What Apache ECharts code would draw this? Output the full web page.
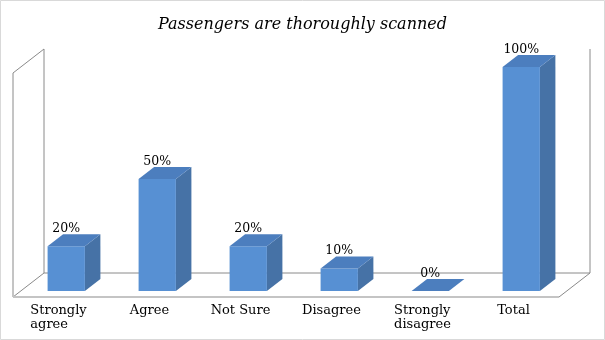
<!DOCTYPE html>
<html>
<head>
<meta charset="utf-8">
<script src="https://cdn.jsdelivr.net/npm/echarts@6/dist/echarts.min.js"></script>
<style>
html,body{margin:0;padding:0;background:#fff;}
#chart{width:605px;height:340px;}
</style>
</head>
<body>
<div id="chart"></div>
<script>
const titleText = 'Passengers are thoroughly scanned';
const categories = ['Strongly\nagree', 'Agree', 'Not Sure', 'Disagree', 'Strongly\ndisagree', 'Total'];
const values = [20, 50, 20, 10, 0, 100];
const valueLabels = ['20%', '50%', '20%', '10%', '0%', '100%'];

// style constants (3D projection)
const DX = 31, DY = -24;       // floor depth vector
const FRONT_C = '#5790D3', TOP_C = '#4C7EBE', SIDE_C = '#4672A6';
const WALL_C = '#8a8a8a';
const FONT = 'DejaVu Serif';

const chart = echarts.init(document.getElementById('chart'));

function wallsRender(params, api) {
  const cs = params.coordSys;
  const x0 = cs.x, x1 = cs.x + cs.width;
  const yb = api.coord([0, 0])[1];
  const yt = api.coord([0, 100])[1];
  const line = (a, b, c, d, stroke, w) => ({
    type: 'line', shape: {x1: a, y1: b, x2: c, y2: d},
    style: {stroke: stroke, lineWidth: w || 1}
  });
  return {
    type: 'group',
    children: [
      line(x0, yb, x0, yt, WALL_C),
      line(x0, yt, x0 + DX, yt + DY, WALL_C),
      line(x0 + DX, yt + DY, x0 + DX, yb + DY, WALL_C),
      line(x0, yb, x0 + DX, yb + DY, WALL_C),
      line(x0 + DX, yb + DY, x1 + DX, yb + DY, WALL_C),
      line(x1 + DX, yb + DY, x1 + DX, yt + DY, WALL_C),
      line(x1, yb, x1 + DX, yb + DY, WALL_C),
      line(x0, yb, x1, yb, '#c4c4c4', 2)
    ]
  };
}

function barRender(params, api) {
  const idx = api.value(0);
  const val = api.value(1);
  const base = api.coord([idx, 0]);
  const top = api.coord([idx, val]);
  const bw = api.size([1, 0])[0] * 0.41;
  const fx = 0.25 * DX, fy = 0.25 * DY;   // front offset in depth
  const bx = 0.5 * DX, by = 0.5 * DY;     // bar depth
  const cx = base[0] + fx;
  const xl = cx - bw / 2, xr = cx + bw / 2;
  const yB = base[1] + fy, yT = top[1] + fy;
  const children = [];
  if (yB - yT > 0.5) {
    children.push({type: 'polygon', shape: {points: [[xr, yT], [xr + bx, yT + by], [xr + bx, yB + by], [xr, yB]]}, style: {fill: SIDE_C}});
    children.push({type: 'rect', shape: {x: xl, y: yT, width: bw, height: yB - yT}, style: {fill: FRONT_C}});
  }
  children.push({type: 'polygon', shape: {points: [[xl, yT], [xr, yT], [xr + bx, yT + by], [xl + bx, yT + by]]}, style: {fill: TOP_C}});
  children.push({
    type: 'text',
    style: {
      text: valueLabels[idx], x: cx, y: yT - 11,
      textAlign: 'center', textVerticalAlign: 'bottom',
      font: '12.5px "' + FONT + '"', fill: '#000'
    }
  });
  return {type: 'group', children: children};
}

chart.setOption({
  animation: false,
  backgroundColor: '#fff',
  title: {
    text: titleText, left: 'center', top: 17, padding: 0,
    textStyle: {fontFamily: FONT, fontStyle: 'italic', fontWeight: 'normal', fontSize: 16, color: '#000'}
  },
  graphic: [{
    type: 'rect', shape: {x: 0.5, y: 0.5, width: 604, height: 339},
    style: {fill: 'none', stroke: '#d9d9d9', lineWidth: 1}, silent: true
  }],
  grid: {left: 13, right: 46, top: 73, bottom: 43},
  xAxis: {
    type: 'category', data: categories,
    axisLine: {show: false}, axisTick: {show: false}, splitLine: {show: false},
    axisLabel: {
      margin: 7, interval: 0,
      formatter: v => v.split('\n').map(s => '{a|' + s + '}').join('\n'),
      rich: {a: {align: 'left', fontFamily: FONT, fontSize: 13, lineHeight: 14, color: '#000'}}
    }
  },
  yAxis: {
    type: 'value', min: 0, max: 100, show: false
  },
  series: [
    {type: 'custom', renderItem: wallsRender, data: [[0]], z: 1, silent: true},
    {type: 'custom', renderItem: barRender, data: values.map((v, i) => [i, v]), z: 2,
     encode: {x: 0, y: 1}}
  ]
});
</script>
</body>
</html>
